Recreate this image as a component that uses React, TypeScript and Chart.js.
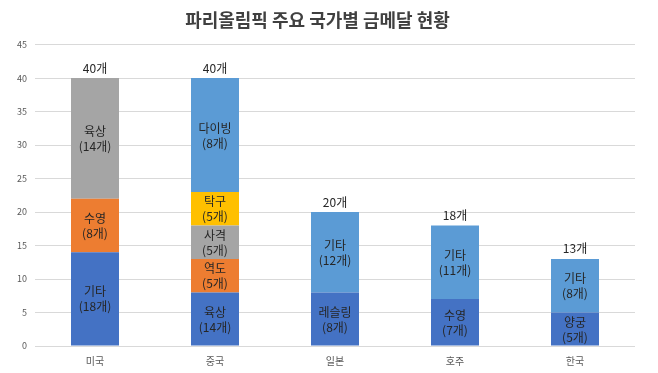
import React, { useEffect, useRef } from "react";
import { Chart, registerables } from "chart.js";

Chart.register(...registerables);

const categories = ["미국", "중국", "일본", "호주", "한국"];

// stacked layers, bottom to top (segment heights as drawn)
const layer1 = [14, 8, 8, 7, 5];
const layer2 = [8, 5, 12, 11, 8];
const layer3 = [18, 5, 0, 0, 0];
const layer4 = [0, 5, 0, 0, 0];
const layer5 = [0, 17, 0, 0, 0];

const layer1Names = ["기타", "육상", "레슬링", "수영", "양궁"];
const layer1Counts = ["(18개)", "(14개)", "(8개)", "(7개)", "(5개)"];
const layer2Names = ["수영", "역도", "기타", "기타", "기타"];
const layer2Counts = ["(8개)", "(5개)", "(12개)", "(11개)", "(8개)"];
const layer3Names = ["육상", "사격", "", "", ""];
const layer3Counts = ["(14개)", "(5개)", "", "", ""];
const layer4Names = ["", "탁구", "", "", ""];
const layer4Counts = ["", "(5개)", "", "", ""];
const layer5Names = ["", "다이빙", "", "", ""];
const layer5Counts = ["", "(8개)", "", "", ""];

const totalLabels = ["40개", "40개", "20개", "18개", "13개"];

const yTicks = [0, 5, 10, 15, 20, 25, 30, 35, 40, 45];

const DARK_BLUE = "#4472C4";
const ORANGE = "#ED7D31";
const GRAY = "#A5A5A5";
const YELLOW = "#FFC000";
const LIGHT_BLUE = "#5B9BD5";

const FONT = "'Noto Sans CJK KR', 'Noto Sans', sans-serif";

export default function App() {
  const ref = useRef<HTMLCanvasElement>(null);

  useEffect(() => {
    document.body.style.margin = "0";
    const canvas = ref.current!;
    const names = [layer1Names, layer2Names, layer3Names, layer4Names, layer5Names];
    const counts = [layer1Counts, layer2Counts, layer3Counts, layer4Counts, layer5Counts];

    const labelPlugin = {
      id: "segLabels",
      afterDatasetsDraw(chart: any) {
        const ctx = chart.ctx;
        ctx.save();
        ctx.textAlign = "center";
        ctx.textBaseline = "middle";
        ctx.font = `12px ${FONT}`;
        ctx.fillStyle = "#262626";
        chart.data.datasets.forEach((ds: any, di: number) => {
          const meta = chart.getDatasetMeta(di);
          meta.data.forEach((el: any, i: number) => {
            if (!ds.data[i]) return;
            const n = names[di][i];
            const c = counts[di][i];
            if (!n) return;
            const cy = (el.y + el.base) / 2;
            ctx.fillText(n, el.x, cy - 7);
            ctx.fillText(c, el.x, cy + 8);
          });
        });
        // totals above
        const top = chart.getDatasetMeta(chart.data.datasets.length - 1);
        const yScale = chart.scales.y;
        categories.forEach((_, i) => {
          let sum = 0;
          chart.data.datasets.forEach((ds: any) => (sum += ds.data[i]));
          const x = top.data[i].x;
          const y = yScale.getPixelForValue(sum);
          ctx.fillText(totalLabels[i], x, y - 10);
        });
        ctx.restore();
      },
    };

    const mk = (data: number[], colors: string[]) => ({
      data,
      backgroundColor: colors,
      borderWidth: 0,
      barPercentage: 0.8,
      categoryPercentage: 0.5,
    });

    const chart = new Chart(canvas, {
      type: "bar",
      data: {
        labels: categories,
        datasets: [
          mk(layer1, [DARK_BLUE, DARK_BLUE, DARK_BLUE, DARK_BLUE, DARK_BLUE]),
          mk(layer2, [ORANGE, ORANGE, LIGHT_BLUE, LIGHT_BLUE, LIGHT_BLUE]),
          mk(layer3, [GRAY, GRAY, GRAY, GRAY, GRAY]),
          mk(layer4, [YELLOW, YELLOW, YELLOW, YELLOW, YELLOW]),
          mk(layer5, [LIGHT_BLUE, LIGHT_BLUE, LIGHT_BLUE, LIGHT_BLUE, LIGHT_BLUE]),
        ],
      },
      options: {
        animation: false,
        responsive: false,
        layout: { padding: { left: 0, right: 23, top: 0, bottom: -3 } },
        plugins: {
          legend: { display: false },
          tooltip: { enabled: false },
          title: {
            display: true,
            text: "파리올림픽 주요 국가별 금메달 현황",
            color: "#404040",
            font: { family: FONT, size: 18, weight: "bold" },
            padding: { top: 9, bottom: 14 },
          },
        },
        scales: {
          x: {
            stacked: true,
            grid: { display: false, drawTicks: false },
            border: { display: false },
            ticks: { color: "#595959", font: { family: FONT, size: 10 }, padding: 9 },
          },
          y: {
            stacked: true,
            min: 0,
            max: 45,
            afterBuildTicks: (s: any) => {
              s.ticks = yTicks.map((v) => ({ value: v }));
            },
            afterFit: (s: any) => {
              s.width = 35;
            },
            grid: { color: "#D9D9D9", drawTicks: false },
            border: { display: false },
            ticks: { color: "#595959", font: { family: FONT, size: 9 }, padding: 8 },
          },
        },
      },
      plugins: [labelPlugin],
    });
    return () => chart.destroy();
  }, []);

  return <canvas ref={ref} width={658} height={373} style={{ display: "block" }} />;
}
